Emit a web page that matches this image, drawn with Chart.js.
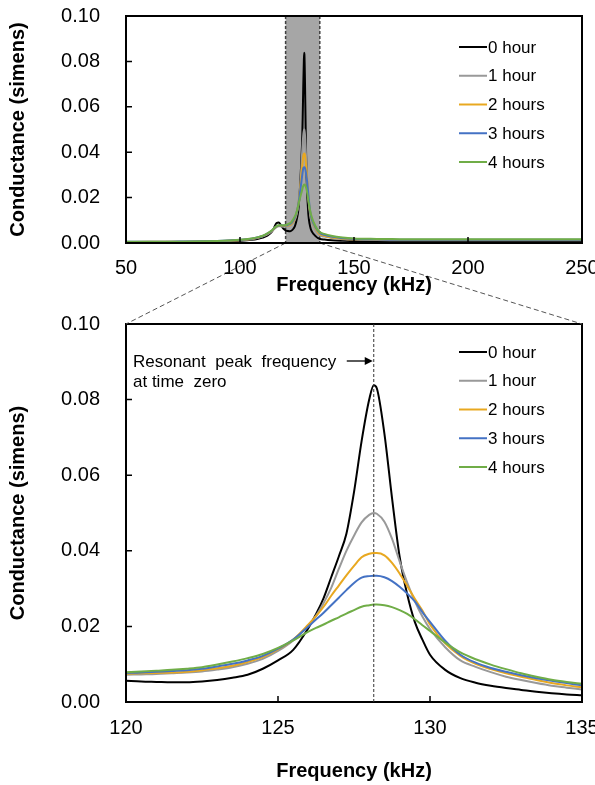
<!DOCTYPE html>
<html>
<head>
<meta charset="utf-8">
<script src="https://cdn.jsdelivr.net/npm/chart.js@4.4.0/dist/chart.umd.min.js"></script>
<style>
html,body{margin:0;padding:0;background:#fff;}
#wrap{position:relative;width:595px;height:785px;}
canvas{position:absolute;left:0;top:0;}
</style>
</head>
<body>
<div id="wrap">
<canvas id="zoomChart" width="595" height="785" style="width:595px;height:785px"></canvas>
<canvas id="fullChart" width="595" height="300" style="width:595px;height:300px"></canvas>
</div>
<script>
// series
const seriesLabels = ["0 hour", "1 hour", "2 hours", "3 hours", "4 hours"]
const seriesColors = ["#000000", "#999999", "#e8a820", "#4472c4", "#70ad47"]

// zoomed window 120-135 kHz (also used inside the full sweep)
const zoomFreqs = [120,120.5,121,121.5,122,122.5,123,123.5,124,124.5,125,125.5,126,126.25,126.5,126.75,127,127.25,127.5,127.75,128,128.15,128.25,128.5,128.75,129,129.25,129.5,129.75,130,130.5,131,131.5,132,132.5,133,133.5,134,134.5,135]
const hour0Zoom = [0.0056,0.0054,0.0053,0.0052,0.0052,0.0054,0.0058,0.0064,0.0072,0.0088,0.0110,0.0138,0.0196,0.0232,0.0275,0.0330,0.0385,0.0445,0.0555,0.0690,0.0800,0.0838,0.0830,0.0710,0.0540,0.0385,0.0285,0.0212,0.0165,0.0125,0.0085,0.0063,0.0051,0.0043,0.0037,0.0032,0.0027,0.0023,0.0020,0.0018]
const hour1Zoom = [0.0072,0.0073,0.0074,0.0076,0.0078,0.0081,0.0086,0.0092,0.0101,0.0114,0.0135,0.0163,0.0203,0.0228,0.0262,0.0302,0.0352,0.0400,0.0440,0.0475,0.0495,0.0500,0.0498,0.0477,0.0432,0.0372,0.0316,0.0267,0.0226,0.0193,0.0145,0.0110,0.0093,0.0079,0.0067,0.0058,0.0050,0.0043,0.0038,0.0033]
const hour2Zoom = [0.0075,0.0076,0.0077,0.0078,0.0080,0.0084,0.0089,0.0096,0.0106,0.0119,0.0139,0.0165,0.0205,0.0227,0.0252,0.0281,0.0308,0.0335,0.0360,0.0383,0.0392,0.0394,0.0394,0.0388,0.0368,0.0340,0.0307,0.0273,0.0242,0.0205,0.0155,0.0122,0.0101,0.0087,0.0076,0.0067,0.0058,0.0050,0.0044,0.0039]
const hour3Zoom = [0.0077,0.0078,0.0080,0.0082,0.0084,0.0088,0.0094,0.0101,0.0110,0.0122,0.0141,0.0165,0.0200,0.0218,0.0236,0.0256,0.0276,0.0296,0.0315,0.0329,0.0333,0.0334,0.0334,0.0330,0.0320,0.0305,0.0287,0.0266,0.0238,0.0212,0.0162,0.0125,0.0104,0.0090,0.0080,0.0071,0.0063,0.0056,0.0050,0.0044]
const hour4Zoom = [0.0079,0.0081,0.0083,0.0085,0.0088,0.0092,0.0099,0.0107,0.0116,0.0127,0.0143,0.0163,0.0186,0.0196,0.0205,0.0215,0.0224,0.0234,0.0243,0.0252,0.0256,0.0258,0.0258,0.0256,0.0251,0.0243,0.0233,0.0219,0.0203,0.0188,0.0157,0.0131,0.0113,0.0099,0.0087,0.0076,0.0067,0.0059,0.0053,0.0048]

// full sweep below the window
const lowFreqs = [50,60,70,80,90,95,100,105,108,110,112,114,115,116,117,118,119]
const hour0Low = [0.0003,0.0003,0.0004,0.0005,0.0006,0.0008,0.0010,0.0014,0.0019,0.0024,0.0032,0.0050,0.0068,0.0088,0.0090,0.0078,0.0064]
const hour1Low = [0.0004,0.0004,0.0005,0.0006,0.0008,0.0010,0.0012,0.0017,0.0023,0.0029,0.0038,0.0052,0.0062,0.0070,0.0074,0.0073,0.0072]
const hour2Low = [0.0004,0.0005,0.0005,0.0006,0.0008,0.0010,0.0013,0.0018,0.0024,0.0030,0.0040,0.0054,0.0064,0.0072,0.0076,0.0075,0.0075]
const hour3Low = [0.0005,0.0005,0.0006,0.0007,0.0009,0.0011,0.0014,0.0019,0.0025,0.0031,0.0041,0.0055,0.0065,0.0073,0.0077,0.0077,0.0077]
const hour4Low = [0.0005,0.0006,0.0006,0.0007,0.0009,0.0011,0.0014,0.0020,0.0026,0.0032,0.0042,0.0056,0.0066,0.0074,0.0078,0.0078,0.0078]

// full sweep above the window
const highFreqs = [137,140,145,150,160,170,180,200,220,240,250]
const hour0High = [0.0015,0.0012,0.0010,0.0009,0.0008,0.0008,0.0008,0.0008,0.0008,0.0008,0.0008]
const hour1High = [0.0028,0.0022,0.0017,0.0015,0.0013,0.0012,0.0012,0.0012,0.0012,0.0012,0.0012]
const hour2High = [0.0032,0.0025,0.0019,0.0016,0.0014,0.0013,0.0013,0.0013,0.0013,0.0013,0.0013]
const hour3High = [0.0036,0.0028,0.0021,0.0018,0.0015,0.0014,0.0014,0.0014,0.0014,0.0014,0.0014]
const hour4High = [0.0040,0.0032,0.0024,0.0020,0.0018,0.0017,0.0016,0.0016,0.0016,0.0016,0.0017]

const zoomRange = [120, 135]
const peakFreq = 128.15
const fullTicks = [50, 250, 50]
const zoomTicks = [120, 135, 5]
const yTicks = [0, 0.1, 0.02]

const zoomSets = [hour0Zoom, hour1Zoom, hour2Zoom, hour3Zoom, hour4Zoom]
const lowSets = [hour0Low, hour1Low, hour2Low, hour3Low, hour4Low]
const highSets = [hour0High, hour1High, hour2High, hour3High, hour4High]

const FONT = "'Liberation Sans', Arial, sans-serif"
const tickFont = {family: FONT, size: 20}
const titleFont = {family: FONT, size: 20, weight: "bold"}

function pts(freqs, vals){
    return freqs.map((f, i) => ({x: f, y: vals[i]}))
}

function makeDatasets(full){
    return seriesLabels.map((label, i) => ({
        label: label,
        data: full
            ? [...pts(lowFreqs, lowSets[i]), ...pts(zoomFreqs, zoomSets[i]), ...pts(highFreqs, highSets[i])]
            : pts(zoomFreqs, zoomSets[i]),
        borderColor: seriesColors[i],
        backgroundColor: seriesColors[i],
        borderWidth: 2,
        pointRadius: 0,
        cubicInterpolationMode: "monotone",
        order: seriesLabels.length - i
    }))
}

// frame + inward tick marks
const framePlugin = {
    id: "frame",
    afterDatasetsDraw(chart){
        const {ctx, chartArea: a, scales: {x, y}} = chart
        ctx.save()
        ctx.strokeStyle = "#000"
        ctx.lineWidth = 2
        ctx.strokeRect(a.left, a.top, a.right - a.left, a.bottom - a.top)
        ctx.lineWidth = 1.5
        ctx.beginPath()
        y.ticks.forEach(t => {
            if (t.value <= y.min || t.value >= y.max) return
            const py = y.getPixelForValue(t.value)
            ctx.moveTo(a.left, py)
            ctx.lineTo(a.left + 6, py)
        })
        x.ticks.forEach(t => {
            if (t.value <= x.min || t.value >= x.max) return
            const px = x.getPixelForValue(t.value)
            ctx.moveTo(px, a.bottom)
            ctx.lineTo(px, a.bottom - 6)
        })
        ctx.stroke()
        ctx.restore()
    }
}

// legend drawn inside the plot area
const innerLegend = {
    id: "innerLegend",
    afterDraw(chart, args, opts){
        const {ctx, chartArea: a} = chart
        ctx.save()
        ctx.font = "17px " + FONT
        ctx.textBaseline = "middle"
        ctx.fillStyle = "#000"
        chart.data.datasets.forEach((ds, i) => {
            const yy = a.top + opts.top + i * 28.75
            ctx.strokeStyle = ds.borderColor
            ctx.lineWidth = 2
            ctx.beginPath()
            ctx.moveTo(a.right - 123, yy)
            ctx.lineTo(a.right - 95, yy)
            ctx.stroke()
            ctx.fillText(ds.label, a.right - 94, yy + 1)
        })
        ctx.restore()
    }
}

// grey window on the full sweep
const windowShade = {
    id: "windowShade",
    beforeDatasetsDraw(chart){
        const {ctx, chartArea: a, scales: {x}} = chart
        const x1 = x.getPixelForValue(zoomRange[0])
        const x2 = x.getPixelForValue(zoomRange[1])
        ctx.save()
        ctx.fillStyle = "#a6a6a6"
        ctx.fillRect(x1, a.top, x2 - x1, a.bottom - a.top)
        ctx.strokeStyle = "#404040"
        ctx.lineWidth = 1.5
        ctx.setLineDash([3, 2])
        ctx.beginPath()
        ctx.moveTo(x1, a.top); ctx.lineTo(x1, a.bottom)
        ctx.moveTo(x2, a.top); ctx.lineTo(x2, a.bottom)
        ctx.stroke()
        ctx.restore()
    }
}

function scaleCfg(range, ticks, padX, axisSize, titlePad){
    return {
        x: {
            type: "linear", min: range[0], max: range[1],
            ticks: {stepSize: ticks[2], font: tickFont, color: "#000", padding: padX, maxRotation: 0, autoSkip: false},
            grid: {display: false}, border: {display: false},
            title: {display: true, text: "Frequency (kHz)", font: titleFont, color: "#000", padding: {top: 0, bottom: titlePad}},
            afterFit(s){ s.height = axisSize; s.paddingLeft = 0; s.paddingRight = 0 }
        },
        y: {
            min: yTicks[0], max: yTicks[1],
            ticks: {stepSize: yTicks[2], font: tickFont, color: "#000", padding: 18, callback: v => v.toFixed(2)},
            grid: {display: false}, border: {display: false},
            title: {display: true, text: "Conductance (simens)", font: titleFont, color: "#000", padding: {top: 6, bottom: 0}},
            afterFit(s){ s.width = 126; s.paddingTop = 0; s.paddingBottom = 0 }
        }
    }
}

const fullChart = new Chart(document.getElementById("fullChart"), {
    type: "line",
    data: {datasets: makeDatasets(true)},
    options: {
        responsive: false,
        animation: false,
        layout: {padding: {top: 16, right: 13, left: 0, bottom: 0}},
        plugins: {legend: {display: false}, tooltip: {enabled: false}, innerLegend: {top: 31}},
        scales: scaleCfg([fullTicks[0], fullTicks[1]], fullTicks, 5, 57, 3)
    },
    plugins: [windowShade, framePlugin, innerLegend]
})

// peak marker, note and the dashed lines joining the two plots
const zoomExtras = {
    id: "zoomExtras",
    afterDatasetsDraw(chart){
        const {ctx, chartArea: a, scales: {x}} = chart
        const px = x.getPixelForValue(peakFreq)
        ctx.save()
        ctx.strokeStyle = "#333"
        ctx.lineWidth = 1
        ctx.setLineDash([3, 2])
        ctx.beginPath()
        ctx.moveTo(px, a.top); ctx.lineTo(px, a.bottom)
        ctx.stroke()

        const fx = fullChart.scales.x
        const fb = fullChart.chartArea.bottom
        ctx.strokeStyle = "#555"
        ctx.setLineDash([5, 3])
        ctx.beginPath()
        ctx.moveTo(fx.getPixelForValue(zoomRange[0]), fb); ctx.lineTo(a.left, a.top)
        ctx.moveTo(fx.getPixelForValue(zoomRange[1]), fb); ctx.lineTo(a.right, a.top)
        ctx.stroke()
        ctx.setLineDash([])

        ctx.fillStyle = "#000"
        ctx.font = "17px " + FONT
        ctx.textBaseline = "alphabetic"
        ctx.fillText("Resonant  peak  frequency", a.left + 7, a.top + 43)
        ctx.fillText("at time  zero", a.left + 7, a.top + 63)

        const ay = a.top + 37
        const tip = px - 1
        ctx.strokeStyle = "#000"
        ctx.lineWidth = 1.3
        ctx.beginPath()
        ctx.moveTo(tip - 26, ay); ctx.lineTo(tip - 6, ay)
        ctx.stroke()
        ctx.beginPath()
        ctx.moveTo(tip, ay); ctx.lineTo(tip - 8, ay - 4); ctx.lineTo(tip - 8, ay + 4)
        ctx.closePath()
        ctx.fill()
        ctx.restore()
    }
}

const zoomChart = new Chart(document.getElementById("zoomChart"), {
    type: "line",
    data: {datasets: makeDatasets(false)},
    options: {
        responsive: false,
        animation: false,
        layout: {padding: {top: 324, right: 13, left: 0, bottom: 0}},
        plugins: {legend: {display: false}, tooltip: {enabled: false}, innerLegend: {top: 28}},
        scales: scaleCfg([zoomTicks[0], zoomTicks[1]], zoomTicks, 6, 83, 2)
    },
    plugins: [framePlugin, innerLegend, zoomExtras]
})
</script>
</body>
</html>
